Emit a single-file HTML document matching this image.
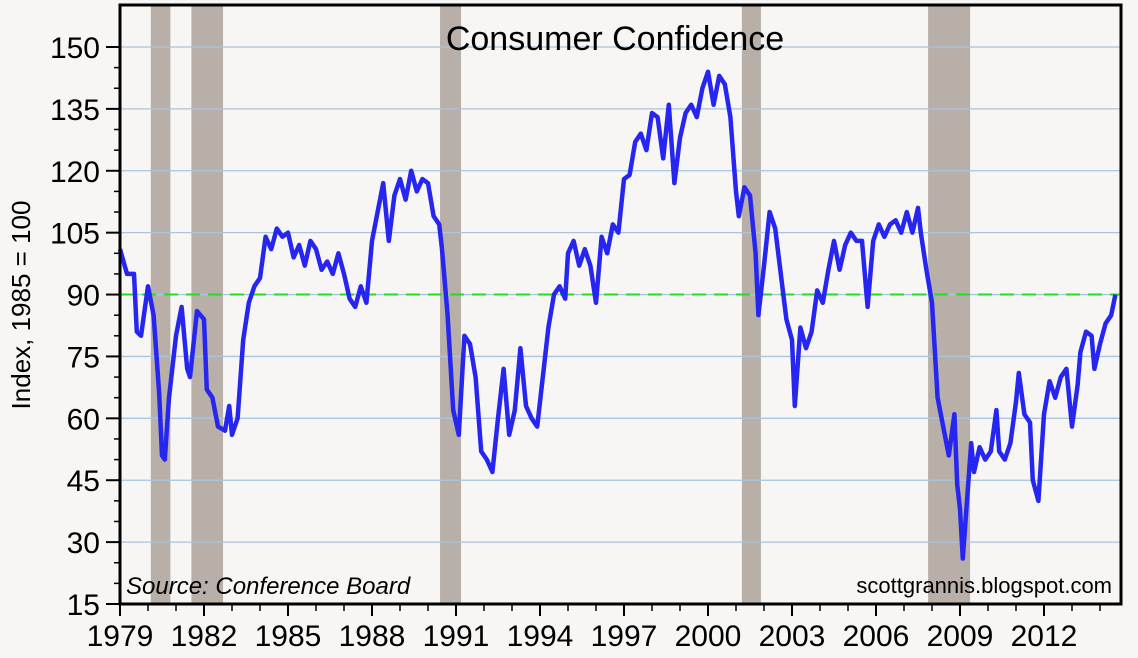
<!DOCTYPE html>
<html><head><meta charset="utf-8"><style>
html,body{margin:0;padding:0;background:#f7f6f4;}
svg{display:block;font-family:"Liberation Sans",sans-serif;}
</style></head><body>
<svg id="c" width="1138" height="658" viewBox="0 0 1138 658">
<rect x="0" y="0" width="1138" height="658" fill="#f7f6f4"/>
<g id="rec"></g><g id="grid"></g><g id="ticks"></g><g id="series"></g>
<rect x="120" y="5" width="1001" height="599" fill="none" stroke="#000" stroke-width="3"/>
<text x="615" y="50" font-size="34" text-anchor="middle">Consumer Confidence</text>
<text transform="translate(30,305) rotate(-90)" font-size="26" text-anchor="middle">Index, 1985 = 100</text>
<text x="126" y="594" font-size="24" font-style="italic">Source:  Conference Board</text>
<text x="1112" y="593" font-size="22" text-anchor="end">scottgrannis.blogspot.com</text>
</svg>
<script>
const years=[1979,1982,1985,1988,1991,1994,1997,2000,2003,2006,2009,2012];
const yTicks=[15,30,45,60,75,90,105,120,135,150];
const recessions=[[1980.1,1980.8],[1981.55,1982.68],[1990.43,1991.18],[2001.21,2001.89],[2007.86,2009.36]];
const times=[1979.0,1979.25,1979.5,1979.6,1979.75,1980.0,1980.2,1980.4,1980.5,1980.6,1980.75,1981.0,1981.2,1981.4,1981.5,1981.75,1982.0,1982.1,1982.3,1982.5,1982.75,1982.9,1983.0,1983.2,1983.4,1983.6,1983.8,1984.0,1984.2,1984.4,1984.6,1984.8,1985.0,1985.2,1985.4,1985.6,1985.8,1986.0,1986.2,1986.4,1986.6,1986.8,1987.0,1987.2,1987.4,1987.6,1987.8,1988.0,1988.2,1988.4,1988.6,1988.8,1989.0,1989.2,1989.4,1989.6,1989.8,1990.0,1990.2,1990.4,1990.5,1990.7,1990.9,1991.0,1991.1,1991.3,1991.5,1991.7,1991.9,1992.1,1992.3,1992.5,1992.7,1992.9,1993.1,1993.3,1993.5,1993.7,1993.9,1994.1,1994.3,1994.5,1994.7,1994.9,1995.0,1995.2,1995.4,1995.6,1995.8,1996.0,1996.2,1996.4,1996.6,1996.8,1997.0,1997.2,1997.4,1997.6,1997.8,1998.0,1998.2,1998.4,1998.6,1998.8,1999.0,1999.2,1999.4,1999.6,1999.8,2000.0,2000.2,2000.4,2000.6,2000.8,2001.0,2001.1,2001.3,2001.5,2001.7,2001.8,2002.0,2002.2,2002.4,2002.6,2002.8,2003.0,2003.1,2003.3,2003.5,2003.7,2003.9,2004.1,2004.3,2004.5,2004.7,2004.9,2005.1,2005.3,2005.5,2005.7,2005.9,2006.1,2006.3,2006.5,2006.7,2006.9,2007.1,2007.3,2007.5,2007.6,2007.8,2008.0,2008.2,2008.4,2008.6,2008.8,2008.9,2009.0,2009.1,2009.25,2009.4,2009.5,2009.7,2009.9,2010.1,2010.3,2010.4,2010.6,2010.8,2011.0,2011.1,2011.3,2011.5,2011.6,2011.8,2012.0,2012.2,2012.4,2012.6,2012.8,2013.0,2013.2,2013.3,2013.5,2013.7,2013.8,2014.0,2014.2,2014.4,2014.55];
const values=[101,95,95,81,80,92,85,66,51,50,65,80,87,72,70,86,84,67,65,58,57,63,56,60,79,88,92,94,104,101,106,104,105,99,102,97,103,101,96,98,95,100,95,89,87,92,88,103,110,117,103,114,118,113,120,115,118,117,109,107,101,85,62,59,56,80,78,70,52,50,47,60,72,56,62,77,63,60,58,70,82,90,92,89,100,103,97,101,97,88,104,100,107,105,118,119,127,129,125,134,133,123,136,117,128,134,136,133,140,144,136,143,141,133,115,109,116,114,100,85,97,110,106,95,84,79,63,82,77,81,91,88,96,103,96,102,105,103,103,87,103,107,104,107,108,105,110,105,111,105,96,88,65,58,51,61,44,38,26,40,54,47,53,50,52,62,52,50,54,64,71,61,59,45,40,61,69,65,70,72,58,68,76,81,80,72,78,83,85,90];
const reference=[90];
const X=t=>120+(t-1979)*28, Y=v=>604-(v-15)*4.126;
const NS="http://www.w3.org/2000/svg";
function mk(tag,attrs,parent){const e=document.createElementNS(NS,tag);for(const k in attrs)e.setAttribute(k,attrs[k]);document.getElementById(parent).appendChild(e);return e;}
recessions.forEach(r=>{
 const e=mk('rect',{x:X(r[0]),y:5,width:X(r[1])-X(r[0]),height:599,fill:'#b8b0a8'},'rec');
 
 
});
yTicks.forEach(v=>{
 if(v>15){const g=mk('line',{x1:120,x2:1121,y1:Y(v),y2:Y(v),stroke:'#a9c4dc','stroke-width':1.3},'grid');
 
 }
 const t=mk('line',{x1:106,x2:120,y1:Y(v),y2:Y(v),stroke:'#000','stroke-width':2},'ticks');
 
 
 const l=mk('text',{x:100,y:Y(v)+11,'font-size':30,'text-anchor':'end'},'ticks');l.textContent=v;
 
 
});
for(let v=20;v<155;v+=5){if((v-15)%15){const m=mk('line',{x1:114,x2:120,y1:Y(v),y2:Y(v),stroke:'#000','stroke-width':1.5},'ticks');
 
 }}
for(let y=1979;y<=2014;y++){const major=years.includes(y);
 const m=mk('line',{x1:X(y),x2:X(y),y1:604,y2:major?616:611,stroke:'#000','stroke-width':major?2:1.5},'ticks');
 
 }
years.forEach(y=>{const l=mk('text',{x:X(y),y:646,'font-size':30,'text-anchor':'middle'},'ticks');l.textContent=y;
 
 });
reference.forEach(v=>{const d=mk('line',{x1:120,x2:1121,y1:Y(v),y2:Y(v),stroke:'#22dd22','stroke-width':2,'stroke-dasharray':'14,8'},'series');
 
 });
const p=mk('polyline',{points:times.map((t,i)=>X(t)+','+Y(values[i])).join(' '),fill:'none',stroke:'#2626f0','stroke-width':4.5,'stroke-linejoin':'round'},'series');


</script>
</body></html>
